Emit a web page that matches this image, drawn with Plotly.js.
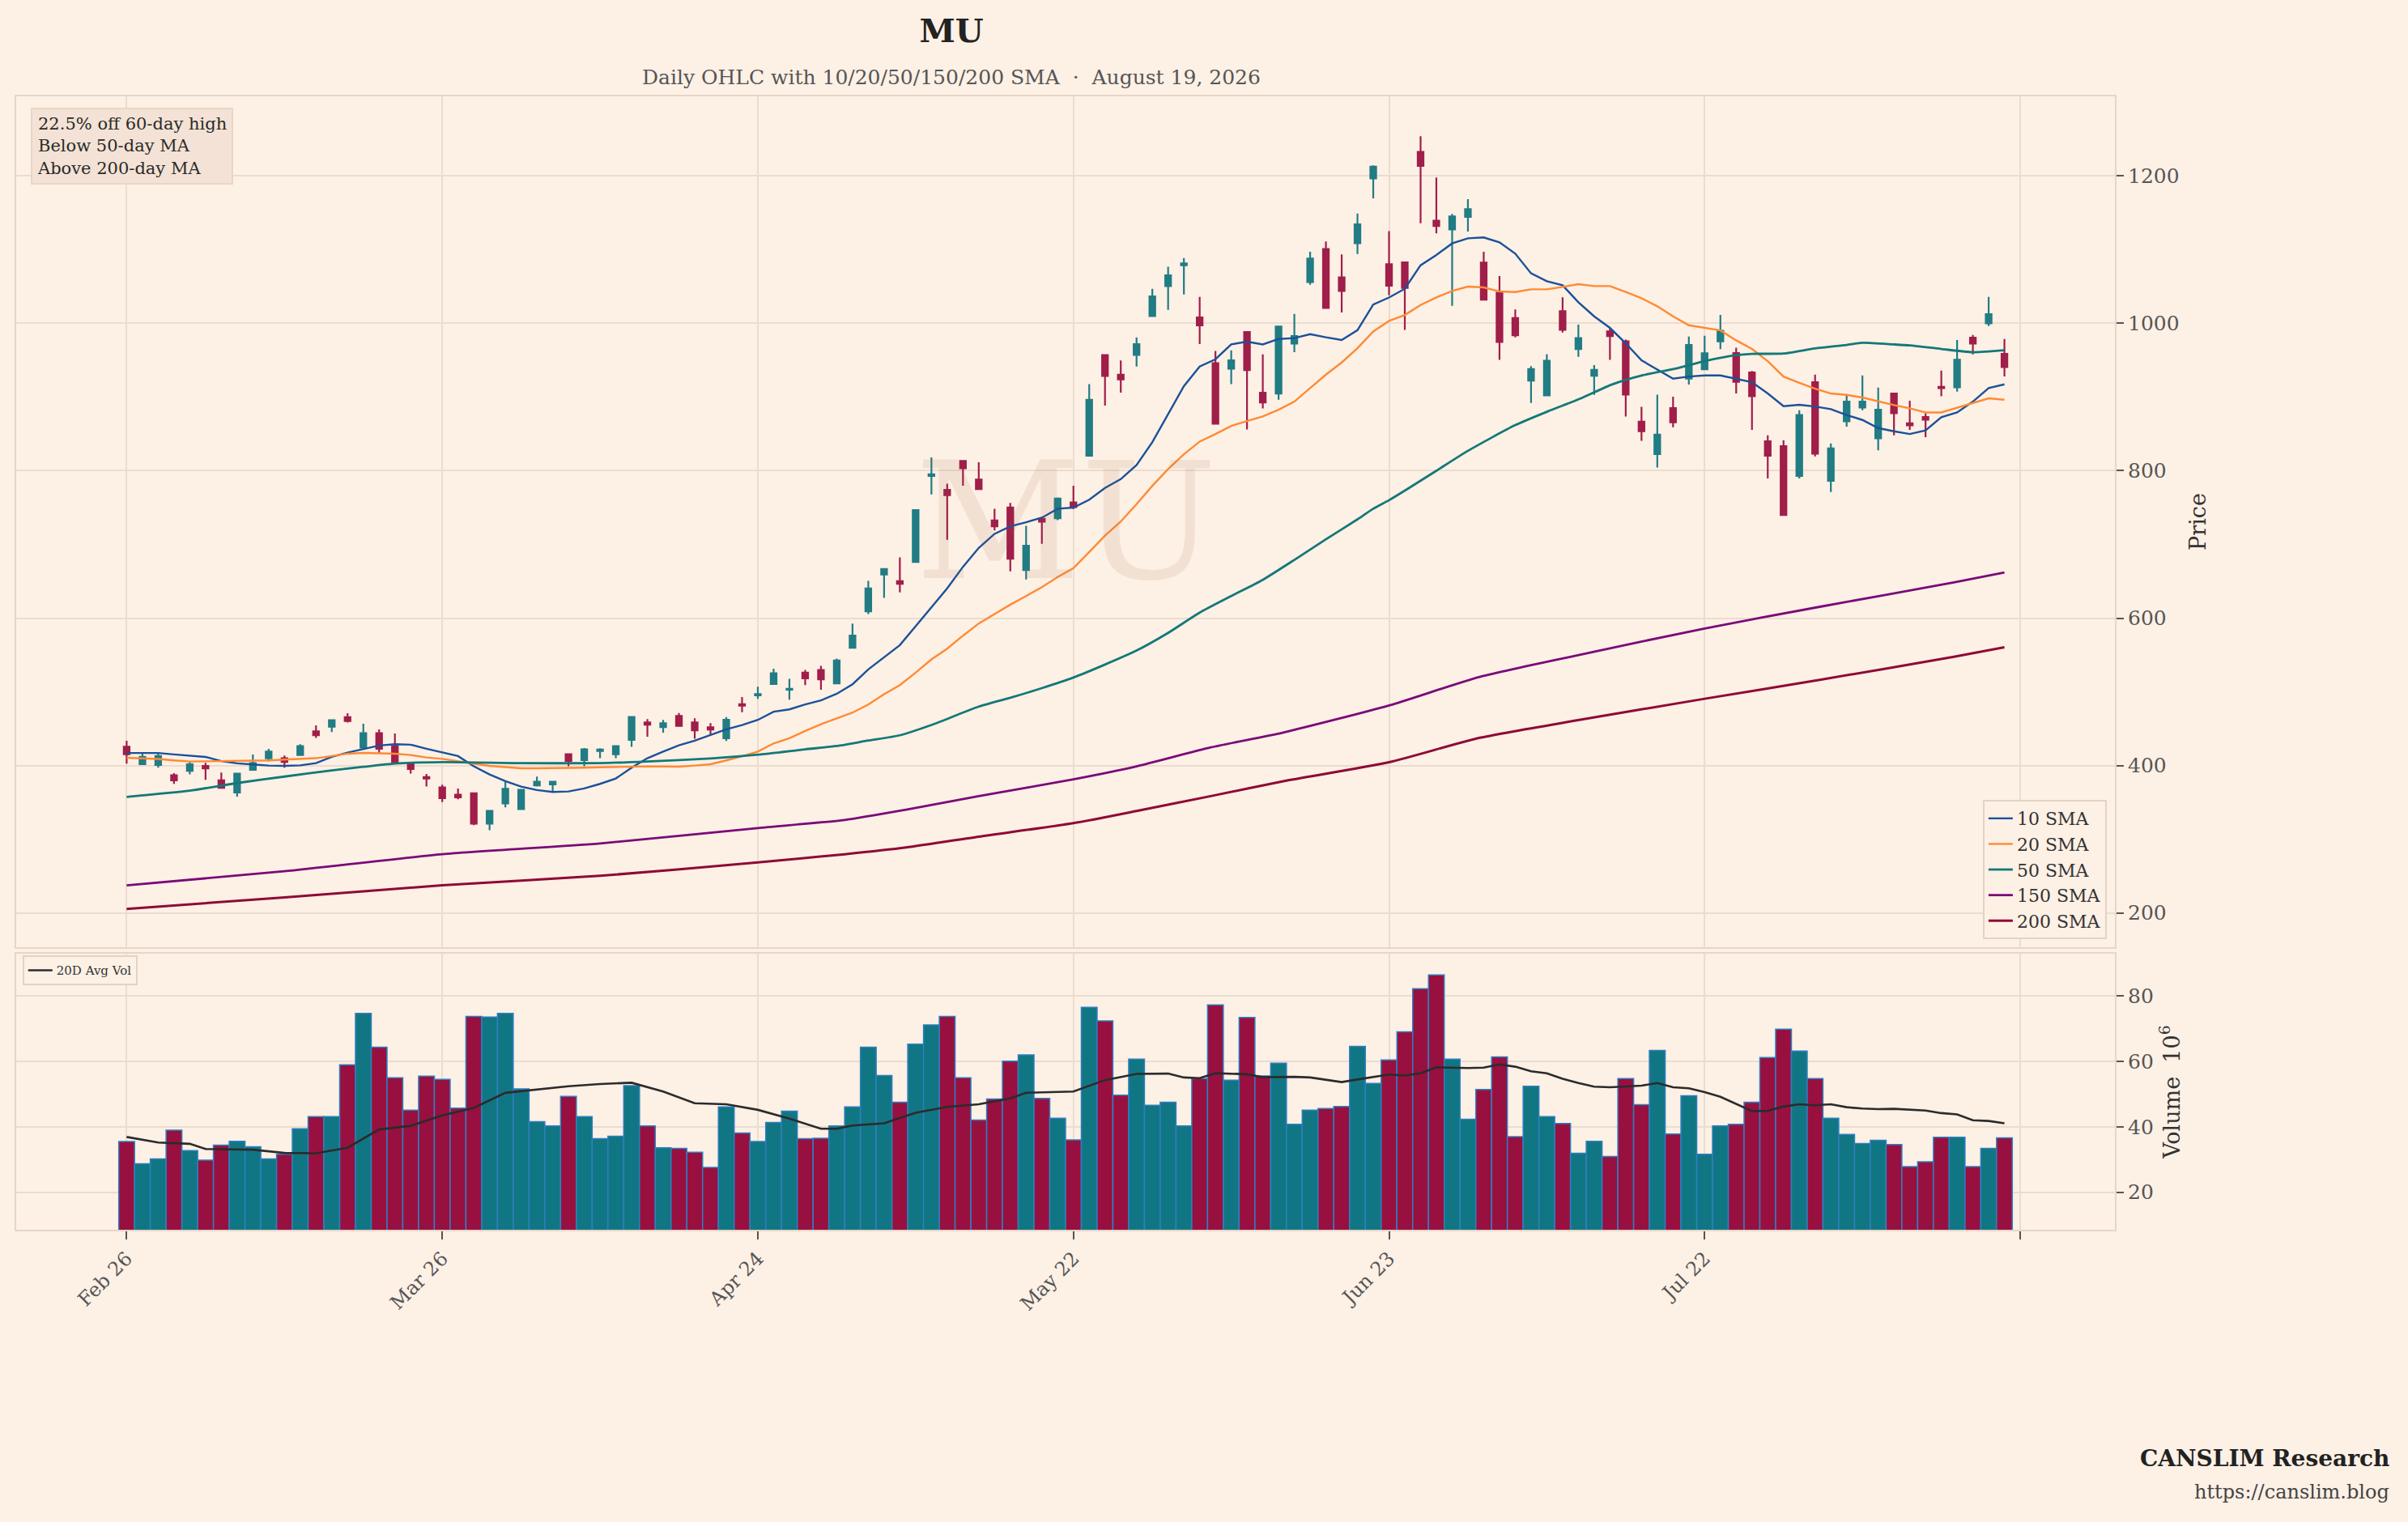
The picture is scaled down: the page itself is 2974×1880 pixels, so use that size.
<!DOCTYPE html>
<html>
<head>
<meta charset="utf-8">
<script src="https://cdn.plot.ly/plotly-3.0.1.min.js"></script>
<style>html,body{margin:0;padding:0;background:#fdf0e5;}#chart{width:2974px;height:1880px;}</style>
</head>
<body>
<div id="chart"></div>
<script>
// ---------- data ----------
const tickPositions = [0, 20, 40, 60, 80, 100];
const tickLabels = ['Feb 26', 'Mar 26', 'Apr 24', 'May 22', 'Jun 23', 'Jul 22'];
const endTick = [120];

const opens = [425.6,401.8,400.7,386.8,392.7,399.3,379.9,363.4,394.1,409.9,
409.9,414.3,446.5,452.7,465.6,424.5,444,426.4,401.5,384.2,
370.3,360.4,362.3,321.2,348.7,341,372.9,374.4,415.4,407.3,
419.8,415.4,434.8,458.6,452,467.4,458.6,452,437.1,483.2,
495.2,510.5,502.9,526,529.7,511.4,559.7,609.2,659.3,650.2,
676.2,793,774,813.2,787.9,732.6,750.2,665.2,734.8,735.5,
757,820.5,956.8,930.4,957.1,1009.9,1050.5,1078.8,1008,945.8,
938.5,988.3,905.9,904.8,972.5,1056,1100.7,1062.3,1108.8,1196.7,
1080.3,1082.8,1232.6,1139.2,1127.5,1144.3,1082.4,1041.4,1007.3,922.3,
902.2,1016.5,965.2,928.9,989,975.5,866.7,822.7,885,924.9,
937.7,975.5,959.7,933.3,839.9,833.3,793,920.1,786.4,867,
885.7,844,904.8,864.5,872.9,913.9,913.2,980.6,1000,958.6];
const highs = [433.7,416.5,417.2,389.7,406.2,403.7,390.5,390,415,422.7,
413.6,428.9,454.6,462,471,456.8,449,443.6,404.4,388.6,
374,368.9,362.5,339,377.7,367.5,385,378.5,415.6,423.8,
423.4,426.5,466,463,461.9,471.1,464,457.5,465.6,493,
507,531.3,517.6,529.7,535.2,545.1,592.7,650.5,666.9,682.4,
746.9,818,782.4,814.3,811.4,748.4,756.4,725.3,737.4,763.7,
779.5,917.6,957,949.5,981,1046.9,1076.9,1088.6,1035.9,962.6,
963.4,988.5,957.9,995.7,1012.8,1097.1,1111,1093.4,1149.1,1214.3,
1125,1083,1253.8,1197.8,1148.4,1168.5,1097.1,1064.1,1018.7,941.8,
958.2,1035.2,998.2,943.2,993.8,978,886.8,903.3,900.4,982.1,
983,1011.5,967,935.2,848,841.4,882,930.4,837,901.8,
929.3,912.8,904.9,894.9,878,935.9,977.3,984.2,1035.9,978.8];
const lows = [402.6,401,397.1,375.1,387.9,380.6,368.5,357.9,393.8,405.5,
397.1,414,437.4,445.4,458.2,422.7,417.2,404,389,371.4,
350.5,354.2,319,312.1,343.2,340.5,371.4,364,398.9,398.9,
409.9,409.9,425.3,439.2,444.7,452.7,436.3,441.8,433.4,472.2,
490.5,510,489.4,509.2,502.9,511,558.6,605.5,627.5,634.8,
676,767.8,706.2,779.5,774.9,719,663.4,652.4,700.7,733,
748,820,888.3,905.9,941.4,1009.5,1018.3,1039.2,971.8,863.5,
917.6,856,884.6,896.3,960.8,1052.4,1020.8,1014.7,1094.1,1169.6,
1038,991,1135.9,1122,1023.8,1124.5,1032,950.5,981,891.9,
901.1,987.5,954.6,902.9,950.5,873.6,840.7,804.4,859,916.8,
937,965,904.8,855.3,789.4,739.5,789.4,819.4,771,859.7,
882,827.8,848,855.3,845.4,901.1,907.3,957.9,996.3,927.8];
const closes = [415.4,411.7,412.8,379.9,401.5,396,369.6,389,403.3,419,
404.8,426.4,441,461.5,460.4,444,422.7,404.4,395.2,382.4,
355.7,356.8,321.2,338.5,368.5,367,378,378,406.2,422,
421.6,426.4,465.9,455.3,457.5,453.8,447.6,448.7,462,481.3,
497,525.1,504,518.3,516.8,542.5,576.2,640.3,666.7,646.5,
746.5,795.2,766.7,803.3,775.1,724.5,680.6,698.2,730.8,762.3,
750.5,896.3,928.6,923.8,971.8,1036.6,1065.2,1081.3,997.1,863.7,
949.8,936.6,892.7,995.6,982.8,1087.9,1020.9,1044,1134.4,1212.5,
1051,1048,1213.6,1132.2,1145.1,1154.9,1032.2,974.7,983.9,938.1,
949.1,991.2,979.9,937,982.8,903.3,853.5,849.1,865.6,970.7,
959.3,990,920.5,901.1,820.5,739.9,875.5,823.1,830.4,893.8,
893.8,882.8,878,861.5,869.2,912.1,950.5,972.5,1012.5,940.7];
const volumes = [35.5,28.7,30.2,39.0,32.7,29.8,34.4,35.6,33.9,30.2,
31.6,39.4,43.1,43.1,59.0,74.7,64.4,55.0,45.1,55.5,
54.5,45.7,73.8,73.6,74.7,51.6,41.6,40.3,49.3,43.1,
36.4,37.1,52.6,40.3,33.6,33.4,32.2,27.6,46.1,38.1,
35.5,41.3,44.8,36.4,36.5,40.3,46.1,64.4,55.7,47.5,
65.3,71.2,73.8,55.0,42.1,48.5,60.1,62.0,48.7,42.6,
36.0,76.6,72.4,49.7,60.7,46.6,47.5,40.3,54.8,77.3,
54.3,73.5,55.6,59.5,40.8,45.1,45.6,46.2,64.6,53.3,
60.5,69.1,82.3,86.5,60.7,42.3,51.4,61.4,37.0,52.4,
43.1,41.0,31.9,35.6,30.9,54.8,46.8,63.4,37.8,49.5,
31.6,40.3,40.8,47.5,61.2,69.9,63.2,54.8,42.6,37.7,
34.9,35.9,34.6,27.8,29.3,36.8,36.8,27.8,33.4,36.6];

const sma10 = [417,417,417,415,413,411.7,406,403,401.5,400,
399.6,400.2,403.3,411.7,417.6,422.7,427.1,428.9,428.2,422.7,
418,412.8,398.9,387.9,378.8,371.4,366.7,364.1,364.8,368.9,
375.1,382.4,397.1,409.9,419,427.5,433.7,441,449.1,454.9,
461.9,473,476.2,482.8,488.3,497.4,510.3,530.4,546.9,563.4,
589,614.7,640.3,669.6,695.2,714.3,724.5,730,736.3,748.4,
750,760.6,776.6,788.6,807.7,838.8,877.3,914.7,941.4,951.3,
971.4,975.1,971.4,978.8,979.9,985.3,981,977.3,990.8,1025.6,
1035,1046.9,1078.8,1092.7,1108.4,1115.4,1116.5,1109.9,1094.5,1067.8,
1057.1,1051.6,1028.6,1009.5,993.8,972.9,949.8,937,924.9,927.8,
929.3,929.3,924.9,920.1,904.8,887.5,889.4,887.2,883.5,875.5,
868.9,857.9,853.5,849.8,854.6,872.5,879.1,893.8,912.1,917.2];
const sma20 = [410.6,409.7,408.8,407,405.5,405.7,405.9,406,406.2,407,
408.1,409,409.9,412.8,416.1,417.2,416.8,416.1,414.3,411,
409,406.2,402.6,399.6,397.8,396.3,396.3,396.3,396.7,397.1,
397.6,398.2,398.5,398.9,398.7,398.5,400,401.8,407,412.5,
419,430,437,447,456,464,471.8,482.8,496.7,509.2,
526,544,558.6,576.2,592.7,605.5,618.3,630,642.1,655.7,
667.8,689.7,712,731,754.6,779.5,802.2,822.3,839.6,849.8,
860.8,867.4,873.6,882.8,893.8,912.1,930.4,946.9,966.3,989,
1003.3,1011.3,1024.9,1035.2,1044,1049.8,1048.7,1043.2,1042.5,1046.2,
1046.2,1049.5,1053.1,1050.5,1050.5,1042.5,1034.1,1023.1,1009.5,997.4,
993.7,990.4,976.9,965.2,948.7,927.8,919.4,911.4,904.8,902.9,
899.3,893.8,889,884.6,879.1,879.1,885.3,891.9,898.2,896.3];

const sma50Days = [0,4,7,10,13,15,17,20,25,30,33,37,40,43,45,47,49,51,54,56,58,60,62,64,66,68,70,72,74,76,78,79,80,81,83,85,88,90,92.2,94.1,96.1,98.2,100,102,103,105,107,109,110,112,113,115,117,119];
const sma50 = [357.5,365.9,376.2,385,393.4,398.2,402.6,404.6,403.3,403.3,405.5,409.5,414.7,422,426.5,433.9,441,455,480,492,505,519.4,537,556,580,607.5,630,652,679,707,734,748.4,760,773,800,827,861.9,880,898.5,916.8,929.7,938.8,948.7,956.8,958.6,959,965.9,970.7,973.6,971.4,970,965.2,960.8,963.4];
const sma150Days = [0,10,20,30,40,45.5,49.4,54,60,64,68.7,73.3,80,85.7,91.9,100,107.3,115.8,119];
const sma150 = [237.4,256.5,279.6,294.3,315.2,326.2,340.2,358.5,381.3,398.9,424.6,444.8,481.5,520,549.4,586,615.4,648.4,662];
const sma200Days = [0,10,20,30,40,45.5,49.4,54,60,64,68.7,73.3,80,85.7,91.9,100,107.3,115.8,119];
const sma200 = [205.5,220.9,237.4,250.3,268.6,279.6,288.8,303.5,321.8,338.3,358.5,378.7,404.4,437.4,461.3,490.6,516.3,547.5,560.4];

const avgVolDays = [0,2,4,5,8,10,12,14,16,18,20,22,24,26,28,30,32,34,36,38,40,42,44,45,46,48,50,52,54,56,57,60,62,64,66,67,68,69,71,72,74,75,77,78,80,81,82,83,85,86,87,88,89,90,91,92,93,94,95,96,97,98,99,100,101,102,103,104,105,106,107,108,109,110,111,112,113,114,115,116,117,118,119];
const avgVol = [36.9,35.2,34.8,33.2,33.0,32.0,31.9,33.6,39.2,40.3,43.5,45.8,50.4,51.4,52.4,53.1,53.5,50.8,47.2,46.9,45.2,42.5,39.4,39.4,40.4,41.1,44.3,46.1,46.9,48.7,50.4,50.8,54.3,56.2,56.3,55.1,54.9,56.4,56.1,55.2,55.3,55.1,53.7,54.5,56.0,55.7,56.4,58.2,58.0,58.1,59.1,58.4,57.0,56.4,54.7,53.4,52.3,52.1,52.4,52.6,53.4,52.1,51.8,50.6,49.2,47.1,44.8,44.9,46.2,46.9,46.6,46.9,46.0,45.6,45.4,45.5,45.2,45.0,44.2,43.8,42.0,41.8,41.1];

// ---------- styling ----------
const BG = '#fdf0e5';
const GRID = '#eaddd0';
const FONT = 'DejaVu Serif, Liberation Serif, serif';
const UP = '#217c84';
const DOWN = '#a01e4a';
const VUP = '#117683';
const VDOWN = '#98103f';

const idx = opens.map((_, i) => i);
const volColors = opens.map((o, i) => closes[i] >= o ? VUP : VDOWN);

const traces = [
  {
    type: 'candlestick', x: idx, open: opens, high: highs, low: lows, close: closes,
    xaxis: 'x', yaxis: 'y', showlegend: false, whiskerwidth: 0,
    increasing: {line: {color: UP, width: 2.2}, fillcolor: UP},
    decreasing: {line: {color: DOWN, width: 2.2}, fillcolor: DOWN},
    hoverinfo: 'skip'
  },
  {type: 'scatter', mode: 'lines', name: '10 SMA', x: idx, y: sma10, line: {color: '#1a5199', width: 2.4}, xaxis: 'x', yaxis: 'y', legend: 'legend'},
  {type: 'scatter', mode: 'lines', name: '20 SMA', x: idx, y: sma20, line: {color: '#ff8a33', width: 2.4}, xaxis: 'x', yaxis: 'y', legend: 'legend'},
  {type: 'scatter', mode: 'lines', name: '50 SMA', x: sma50Days, y: sma50, line: {color: '#137878', width: 2.8, shape: 'spline', smoothing: 0.6}, xaxis: 'x', yaxis: 'y', legend: 'legend'},
  {type: 'scatter', mode: 'lines', name: '150 SMA', x: sma150Days, y: sma150, line: {color: '#7a0a78', width: 2.8, shape: 'spline', smoothing: 0.6}, xaxis: 'x', yaxis: 'y', legend: 'legend'},
  {type: 'scatter', mode: 'lines', name: '200 SMA', x: sma200Days, y: sma200, line: {color: '#8e0a35', width: 3, shape: 'spline', smoothing: 0.6}, xaxis: 'x', yaxis: 'y', legend: 'legend'},
  {
    type: 'bar', x: idx, y: volumes, xaxis: 'x2', yaxis: 'y2', showlegend: false,
    marker: {color: volColors, line: {color: '#2f7fc0', width: 1.5}}, hoverinfo: 'skip'
  },
  {type: 'scatter', mode: 'lines', name: '20D Avg Vol', x: avgVolDays, y: avgVol, line: {color: '#2b2b2b', width: 2.6}, xaxis: 'x2', yaxis: 'y2', legend: 'legend2'}
];

const axisCommon = {
  showgrid: true, gridcolor: GRID, gridwidth: 2, zeroline: false,
  showline: true, mirror: true, linecolor: '#e6d6c8', linewidth: 2
};

const layout = {
  width: 2974, height: 1880,
  paper_bgcolor: BG, plot_bgcolor: BG,
  margin: {l: 20, r: 362, t: 119, b: 361},
  font: {family: FONT, color: '#333'},
  bargap: 0.0,
  boxgap: 0.48,
  title: {
    text: '<b>MU</b>', font: {family: FONT, size: 40, color: '#222'},
    xref: 'paper', x: 0.4456, xanchor: 'center',
    yref: 'container', y: 0.9798, yanchor: 'middle'
  },
  xaxis: Object.assign({}, axisCommon, {
    domain: [0, 1], anchor: 'y', range: [-7, 126],
    tickmode: 'array', tickvals: tickPositions, showticklabels: false, ticks: '',
    minor: {tickmode: 'array', tickvals: endTick, showgrid: true, gridcolor: GRID, gridwidth: 2, ticks: ''},
    rangeslider: {visible: false}, matches: 'x2'
  }),
  xaxis2: Object.assign({}, axisCommon, {
    domain: [0, 1], anchor: 'y2', range: [-7, 126],
    tickmode: 'array', tickvals: tickPositions, ticktext: tickLabels,
    tickangle: -45, ticks: 'outside', ticklen: 10, tickwidth: 2, tickcolor: '#555',
    minor: {tickmode: 'array', tickvals: endTick, showgrid: true, gridcolor: GRID, gridwidth: 2,
            ticks: 'outside', ticklen: 10, tickwidth: 2, tickcolor: '#555'},
    tickfont: {family: FONT, size: 24, color: '#555'}
  }),
  yaxis: Object.assign({}, axisCommon, {
    domain: [0.2493, 1], anchor: 'x', side: 'right', range: [153.5, 1308],
    tickmode: 'array', tickvals: [200, 400, 600, 800, 1000, 1200],
    ticks: 'outside', ticklen: 9, tickwidth: 2, tickcolor: '#555',
    tickfont: {family: FONT, size: 25, color: '#555'},
    title: {text: 'Price', font: {family: FONT, size: 27, color: '#333'}, standoff: 14}
  }),
  yaxis2: Object.assign({}, axisCommon, {
    domain: [0, 0.2436], anchor: 'x2', side: 'right', range: [8.5, 93],
    tickmode: 'array', tickvals: [20, 40, 60, 80],
    ticks: 'outside', ticklen: 9, tickwidth: 2, tickcolor: '#555',
    tickfont: {family: FONT, size: 25, color: '#555'},
    title: {text: 'Volume  10<sup>6</sup>', font: {family: FONT, size: 27, color: '#333'}, standoff: 14}
  }),
  legend: {
    x: 0.9961, y: 0.2564, xanchor: 'right', yanchor: 'bottom',
    bgcolor: BG, bordercolor: '#e3d3c4', borderwidth: 2,
    font: {family: FONT, size: 22, color: '#333'}, tracegroupgap: 0
  },
  legend2: {
    x: 0.003, y: 0.242, xanchor: 'left', yanchor: 'top',
    bgcolor: BG, bordercolor: '#e3d3c4', borderwidth: 2,
    font: {family: FONT, size: 15, color: '#333'}
  },
  annotations: [
    {
      text: 'Daily OHLC with 10/20/50/150/200 SMA  ·  August 19, 2026',
      xref: 'paper', yref: 'paper', x: 0.4456, y: 1.0171, xanchor: 'center', yanchor: 'middle',
      showarrow: false, font: {family: FONT, size: 25, color: '#555'}
    },
    {
      text: '22.5% off 60-day high<br>Below 50-day MA<br>Above 200-day MA',
      xref: 'paper', yref: 'paper', x: 0.0069, y: 0.99, xanchor: 'left', yanchor: 'top',
      align: 'left', showarrow: false, bgcolor: '#f3e2d5', bordercolor: '#e8d6c7', borderwidth: 2, borderpad: 6,
      font: {family: FONT, size: 21, color: '#2a2a2a'}
    },
    {
      text: 'MU', xref: 'paper', yref: 'paper', x: 0.5, y: 0.625, xanchor: 'center', yanchor: 'middle',
      showarrow: false, font: {family: FONT, size: 200, color: 'rgba(150,100,60,0.10)'}
    },
    {
      text: '<b>CANSLIM Research</b>', xref: 'paper', yref: 'paper', x: 1.1316, y: -0.2021,
      xanchor: 'right', yanchor: 'middle', showarrow: false, font: {family: FONT, size: 28, color: '#222'}
    },
    {
      text: 'https://canslim.blog', xref: 'paper', yref: 'paper', x: 1.1316, y: -0.2314,
      xanchor: 'right', yanchor: 'middle', showarrow: false, font: {family: FONT, size: 24, color: '#444'}
    }
  ]
};

Plotly.newPlot('chart', traces, layout, {displayModeBar: false, staticPlot: true});
</script>
</body>
</html>
